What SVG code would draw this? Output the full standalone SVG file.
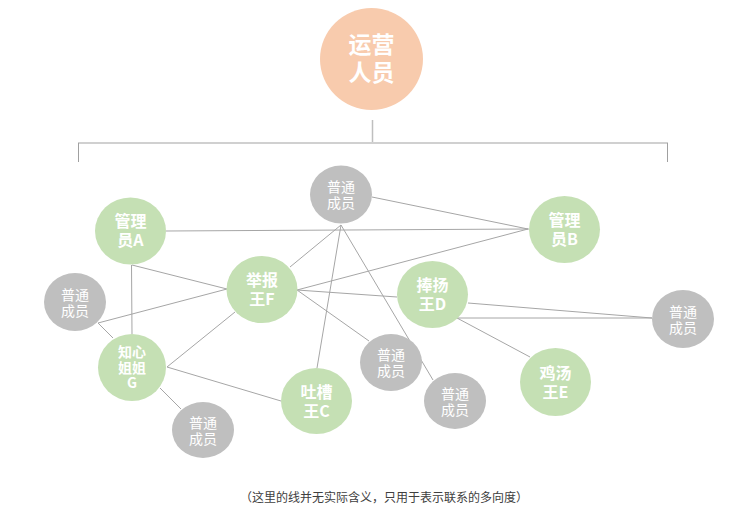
<svg xmlns="http://www.w3.org/2000/svg" width="755" height="517" viewBox="0 0 755 517">
<style>
.g{fill:#c5e0b4}
.m{fill:#bfbfbf}
.t{font-family:"Noto Sans CJK SC","Noto Sans",sans-serif;text-anchor:middle;fill:#ffffff}
.tg{font-size:16px;font-weight:bold}
.tm{font-size:14px}
#conn line{stroke:#a6a6a6;stroke-width:1}
</style>
<rect width="755" height="517" fill="#ffffff"/>
<g id="bracket">
<line x1="372.5" y1="120" x2="372.5" y2="143" stroke="#bfbfbf" stroke-width="1.5"/>
<line x1="78" y1="143" x2="668" y2="143" stroke="#d0d0d0" stroke-width="2"/>
<line x1="78.5" y1="143" x2="78.5" y2="162" stroke="#a0a0a0" stroke-width="1"/>
<line x1="667.5" y1="143" x2="667.5" y2="162" stroke="#a0a0a0" stroke-width="1"/>
</g>
<g id="conn">
<line x1="372" y1="197" x2="528" y2="229"/>
<line x1="166" y1="231" x2="529" y2="229"/>
<line x1="297" y1="290" x2="528" y2="229"/>
<line x1="341" y1="225" x2="290" y2="267"/>
<line x1="341" y1="225" x2="317" y2="368"/>
<line x1="341" y1="225" x2="433" y2="380"/>
<line x1="297" y1="290" x2="397" y2="297"/>
<line x1="297" y1="290" x2="369" y2="341"/>
<line x1="132" y1="265" x2="227" y2="289"/>
<line x1="98" y1="323" x2="227" y2="289"/>
<line x1="235" y1="312" x2="167" y2="367"/>
<line x1="131.5" y1="265" x2="132" y2="334"/>
<line x1="98" y1="323" x2="113" y2="338"/>
<line x1="167" y1="367" x2="281" y2="401"/>
<line x1="160" y1="388" x2="181" y2="409"/>
<line x1="468" y1="303" x2="652" y2="318"/>
<line x1="457" y1="318" x2="652" y2="318"/>
<line x1="457" y1="318" x2="530" y2="357"/>
</g>
<g id="top">
<ellipse cx="371.5" cy="59" rx="51.5" ry="51" fill="#f8cbad"/>
<text class="t" font-size="23" font-weight="bold"><tspan x="371.5" y="53">运营</tspan><tspan x="371.5" y="81">人员</tspan></text>
</g>
<g id="memberTop">
<ellipse class="m" cx="341" cy="194.5" rx="31" ry="29"/>
<text class="t tm"><tspan x="341" y="192">普通</tspan><tspan x="341" y="208">成员</tspan></text>
</g>
<g id="adminA">
<ellipse class="g" cx="130.5" cy="231" rx="35.5" ry="33.5"/>
<text class="t tg"><tspan x="130.5" y="227">管理</tspan><tspan x="130.5" y="246">员A</tspan></text>
</g>
<g id="adminB">
<ellipse class="g" cx="564.5" cy="229.5" rx="35.5" ry="33.5"/>
<text class="t tg"><tspan x="564.5" y="225.5">管理</tspan><tspan x="564.5" y="244.5">员B</tspan></text>
</g>
<g id="reportF">
<ellipse class="g" cx="262" cy="289.5" rx="35.5" ry="33.5"/>
<text class="t tg"><tspan x="262" y="286">举报</tspan><tspan x="262" y="304.5">王F</tspan></text>
</g>
<g id="praiseD">
<ellipse class="g" cx="432.5" cy="294.5" rx="35.5" ry="33.5"/>
<text class="t tg"><tspan x="432.5" y="291">捧扬</tspan><tspan x="432.5" y="310">王D</tspan></text>
</g>
<g id="memberLeft">
<ellipse class="m" cx="75" cy="302" rx="31" ry="29"/>
<text class="t tm"><tspan x="75" y="299.5">普通</tspan><tspan x="75" y="315.5">成员</tspan></text>
</g>
<g id="memberRight">
<ellipse class="m" cx="683" cy="319" rx="31" ry="29"/>
<text class="t tm"><tspan x="683" y="316.5">普通</tspan><tspan x="683" y="332.5">成员</tspan></text>
</g>
<g id="sisterG">
<ellipse class="g" cx="132" cy="367.5" rx="34" ry="33.5"/>
<text class="t" font-size="14" font-weight="bold"><tspan x="132" y="356.5">知心</tspan><tspan x="132" y="372.5">姐姐</tspan><tspan x="132" y="388">G</tspan></text>
</g>
<g id="complainC">
<ellipse class="g" cx="316.5" cy="401" rx="35.5" ry="33"/>
<text class="t tg"><tspan x="316.5" y="397.5">吐槽</tspan><tspan x="316.5" y="416.5">王C</tspan></text>
</g>
<g id="memberMid">
<ellipse class="m" cx="391" cy="362.5" rx="31" ry="28.5"/>
<text class="t tm"><tspan x="391" y="360">普通</tspan><tspan x="391" y="376">成员</tspan></text>
</g>
<g id="memberLow">
<ellipse class="m" cx="455" cy="401" rx="31" ry="28"/>
<text class="t tm"><tspan x="455" y="398.5">普通</tspan><tspan x="455" y="414.5">成员</tspan></text>
</g>
<g id="memberBelowG">
<ellipse class="m" cx="203" cy="430" rx="31" ry="28"/>
<text class="t tm"><tspan x="203" y="427.5">普通</tspan><tspan x="203" y="443.5">成员</tspan></text>
</g>
<g id="soupE">
<ellipse class="g" cx="555.5" cy="382" rx="35.5" ry="34"/>
<text class="t tg"><tspan x="555.5" y="378.5">鸡汤</tspan><tspan x="555.5" y="397.5">王E</tspan></text>
</g>
<text x="384" y="501.5" font-family="'Noto Sans CJK SC','Noto Sans',sans-serif" font-size="12" fill="#404040" text-anchor="middle">（这里的线并无实际含义，只用于表示联系的多向度）</text>
</svg>
